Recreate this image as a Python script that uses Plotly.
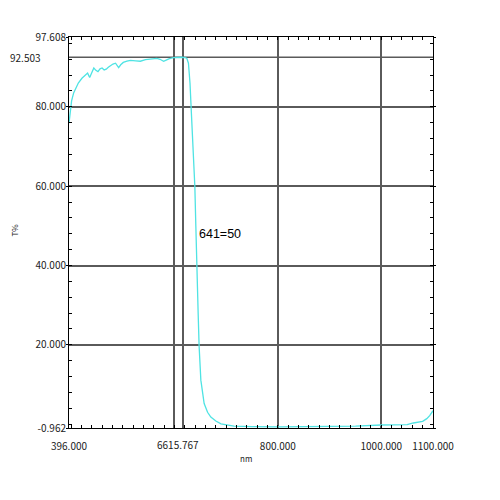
import plotly.graph_objects as go

# Spectrum data (wavelength nm, transmittance %)
wavelength = [396, 398, 401, 405, 409, 414, 421, 427, 432, 436, 440, 444, 448, 452, 456,
              460, 464, 468, 472, 476, 481, 486, 489, 492, 496, 501, 508, 515, 525, 534,
              544, 554, 566, 572, 579, 584, 589, 598, 606, 615, 621,
              624, 627, 630, 633, 636.7, 639.4, 641.3, 642.8, 645.8, 647.7, 651, 657.4,
              664, 670.3, 680, 690, 700, 715, 750, 800, 850, 900, 950, 1000, 1030, 1050,
              1062, 1070, 1080, 1088, 1094, 1100]
transmittance = [75.9, 79.0, 81.5, 83.5, 84.7, 86.0, 87.2, 88.0, 88.5, 87.4, 88.8, 89.8, 89.2,
                 88.9, 89.6, 89.8, 89.3, 89.5, 90.0, 90.4, 90.8, 91.0, 90.4, 89.9, 90.6, 91.2,
                 91.5, 91.7, 91.6, 91.5, 91.9, 92.1, 92.2, 92.0, 91.5, 91.8, 92.1, 92.4, 92.5,
                 92.5, 92.4,
                 92.2, 91.0, 86.0, 77.6, 69.1, 59.9, 50.0, 39.7, 27.9, 19.5, 11.1, 5.2,
                 3.0, 1.8, 0.8, 0.1, -0.2, -0.5, -0.6, -0.7, -0.6, -0.6, -0.5, -0.2, -0.2, -0.1,
                 0.3, 0.4, 0.7, 1.4, 2.2, 3.4]

x_ticks = [396, 600, 615.767, 800, 1000, 1100]
x_ticktext = ["396.000", "", "", "800.000", "1000.000", "1100.000"]
marker_x_label = "6615.767"   # 600.000 label overlapped by the 615.767 marker label
y_ticks = [-0.962, 20, 40, 60, 80, 97.608]
y_ticktext = ["-0.962", "20.000", "40.000", "60.000", "80.000", "97.608"]
y_grid_extra = [92.503]
y_extra_label = "92.503"
marker_label = "641=50"

tick_font = dict(family="Noto Sans CJK SC", size=10, color="#222")
title_font = dict(family="Noto Sans CJK SC", size=8, color="#222")

fig = go.Figure()
fig.add_trace(go.Scatter(x=wavelength, y=transmittance, mode="lines",
                         line=dict(color="#4FE3E3", width=1.3), hoverinfo="skip",
                         showlegend=False))

for yv in y_grid_extra:
    fig.add_hline(y=yv, line=dict(color="#5a5a5a", width=1.6), layer="below")

fig.update_xaxes(range=[396, 1100], tickmode="array", tickvals=x_ticks, ticktext=x_ticktext,
                 automargin=False,
                 showgrid=True, gridcolor="#5a5a5a", gridwidth=1.6,
                 showline=True, linecolor="black", linewidth=1, mirror="allticks",
                 ticks="", tickfont=tick_font, zeroline=False, ticklabelstandoff=9,
                 minor=dict(dtick=20, tick0=0, ticks="inside", ticklen=3,
                            tickcolor="black", showgrid=False))
fig.update_yaxes(range=[-0.962, 97.608], tickmode="array", tickvals=y_ticks, ticktext=y_ticktext,
                 automargin=False,
                 showgrid=True, gridcolor="#5a5a5a", gridwidth=1.6,
                 showline=True, linecolor="black", linewidth=1, mirror="allticks",
                 ticks="outside", ticklen=2, tickcolor="black", tickfont=tick_font, zeroline=False,
                 ticklabelstandoff=-2,
                 minor=dict(dtick=4, tick0=0, ticks="inside", ticklen=3,
                            tickcolor="black", showgrid=False))

# label under the 600 / 615.767 lines
fig.add_annotation(x=615.767, y=0, yref="paper", yanchor="middle", xanchor="center",
                   xshift=-5, yshift=-16, text=marker_x_label, showarrow=False,
                   font=tick_font)
# label for 92.503 line, offset to the left
fig.add_annotation(x=0, xref="paper", y=92.503, xanchor="right", xshift=-26,
                   text=y_extra_label, showarrow=False, font=tick_font)
# axis titles
fig.add_annotation(x=0, xref="paper", y=0.5, yref="paper", xanchor="center", yanchor="middle",
                   xshift=-55, yshift=2, text="T%", textangle=-90, showarrow=False,
                   font=title_font)
fig.add_annotation(x=0.486, xref="paper", y=0, yref="paper", xanchor="center", yanchor="middle",
                   yshift=-30, text="nm", showarrow=False, font=title_font)
# 50% point annotation
fig.add_annotation(x=641, y=50, xanchor="left", yanchor="middle", xshift=1, yshift=-8,
                   text=marker_label, showarrow=False,
                   font=dict(family="Liberation Sans", size=12.5, color="black"))

fig.update_layout(width=500, height=500, margin=dict(l=61, r=75, t=29, b=80),
                  paper_bgcolor="white", plot_bgcolor="white")

fig.write_html("out.html")
